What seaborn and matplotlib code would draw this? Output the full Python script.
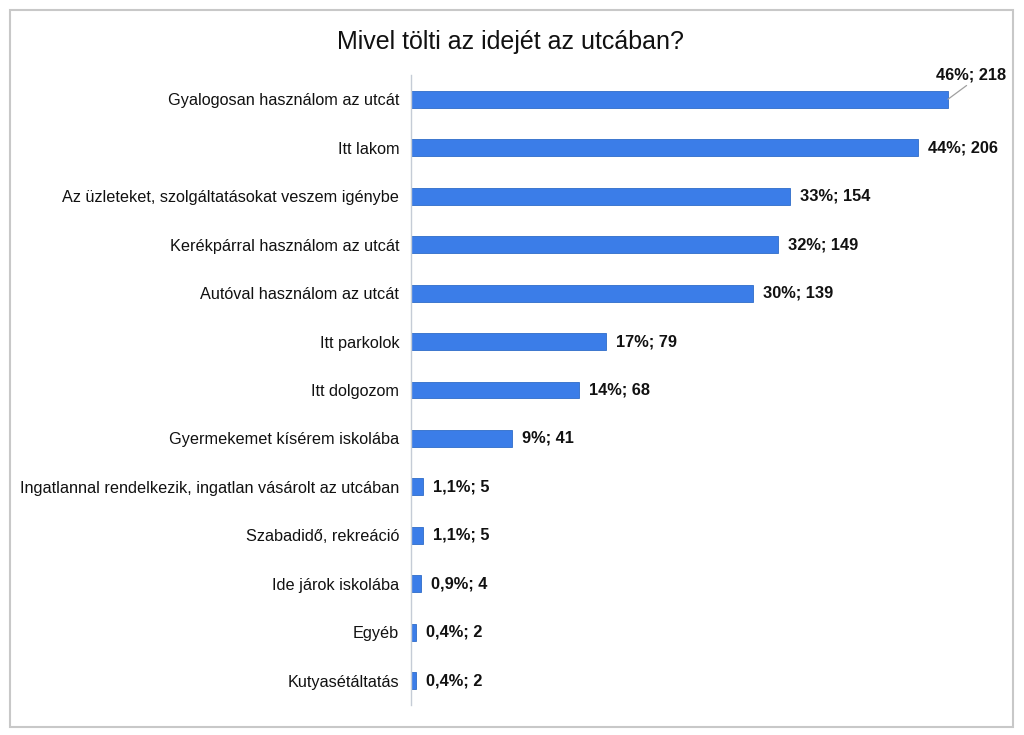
import matplotlib
matplotlib.use("Agg")
import matplotlib.pyplot as plt
import seaborn as sns
import pandas as pd
from matplotlib.patches import Rectangle

categories = [
    "Gyalogosan használom az utcát",
    "Itt lakom",
    "Az üzleteket, szolgáltatásokat veszem igénybe",
    "Kerékpárral használom az utcát",
    "Autóval használom az utcát",
    "Itt parkolok",
    "Itt dolgozom",
    "Gyermekemet kísérem iskolába",
    "Ingatlannal rendelkezik, ingatlan vásárolt az utcában",
    "Szabadidő, rekreáció",
    "Ide járok iskolába",
    "Egyéb",
    "Kutyasétáltatás",
]
counts = [218, 206, 154, 149, 139, 79, 68, 41, 5, 5, 4, 2, 2]
percents = ["46%", "44%", "33%", "32%", "30%", "17%", "14%", "9%", "1,1%", "1,1%", "0,9%", "0,4%", "0,4%"]
title = "Mivel tölti az idejét az utcában?"

df = pd.DataFrame({"cat": categories, "n": counts, "pct": percents})

sns.set_theme(style="white")
plt.rcParams["font.family"] = ["Liberation Sans", "DejaVu Sans"]

fig = plt.figure(figsize=(10.24, 7.35), dpi=100)
ax = fig.add_axes([411 / 1024, 1 - 705 / 735, (1000 - 411) / 1024, (705 - 75) / 735])

sns.barplot(data=df, x="n", y="cat", ax=ax, color="#3b7de8", width=0.35,
            edgecolor="#2f6cc9", linewidth=0.6, saturation=1)

ax.set_xlim(0, 589 / (537 / 218))
ax.set_ylim(12.5, -0.5)
ax.set_xlabel("")
ax.set_ylabel("")
ax.set_xticks([])
for s in ["top", "right", "bottom"]:
    ax.spines[s].set_visible(False)
ax.spines["left"].set_color("#c5ccd6")
ax.spines["left"].set_linewidth(1.0)
ax.tick_params(axis="y", length=0, pad=8.5, labelsize=11.7, labelcolor="#111111")

for i, (n, p) in enumerate(zip(counts, percents)):
    label = f"{p}; {n}"
    if i == 0:
        ax.annotate(label, xy=(n, i), xytext=(23, 17), textcoords="offset pixels",
                    ha="center", va="bottom", fontsize=11.8, fontweight="bold", color="#111111",
                    arrowprops=dict(arrowstyle="-", color="#a0a0a0", lw=0.9,
                                    relpos=(0.5, 0), shrinkA=0, shrinkB=0),
                    annotation_clip=False)
    else:
        ax.annotate(label, xy=(n, i), xytext=(10, 0), textcoords="offset pixels",
                    ha="left", va="center", fontsize=11.8, fontweight="bold", color="#111111",
                    annotation_clip=False)

fig.text(510 / 1024, 1 - 42 / 735, title, ha="center", va="center", fontsize=18, color="#111111")

fig.patches.append(Rectangle((10 / 1024, 1 - 727 / 735), (1013 - 10) / 1024, (727 - 10) / 735,
                             transform=fig.transFigure, fill=False, edgecolor="#c8c8c8", linewidth=1.5))

fig.savefig("out.png", dpi=100, facecolor="white")
